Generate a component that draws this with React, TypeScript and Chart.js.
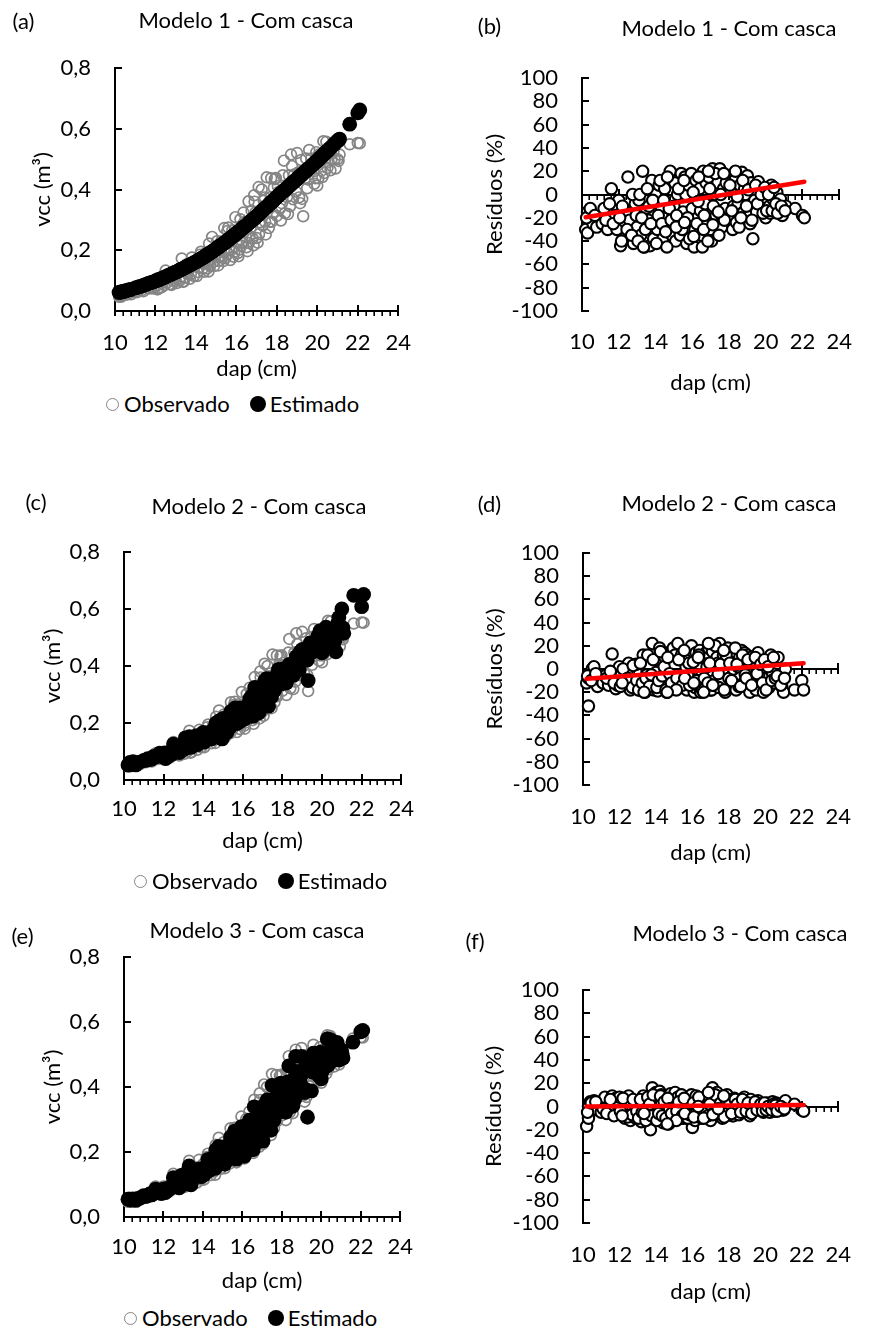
import React, { useEffect, useRef } from 'react';
import { Chart, registerables } from 'chart.js';

Chart.register(...registerables);

const FONT = 'Lato, "Open Sans", sans-serif';

// ---------------- DATA ----------------
const dap = [
  10.2, 10.3, 10.3, 10.4, 10.5, 10.6, 10.8, 11.0, 11.1, 11.2, 11.4, 11.6, 11.8, 11.9, 12.0, 12.1, 12.3, 12.4, 12.5, 12.6,
  12.8, 12.9, 13.0, 13.1, 13.2, 13.3, 13.4, 13.5, 13.6, 13.7, 13.8, 13.9, 14.0, 14.1, 14.2, 14.3, 14.4, 14.5, 14.6, 14.7,
  14.8, 14.9, 14.95, 15.0, 15.05, 15.1, 15.2, 15.3, 15.35, 15.4, 15.5, 15.6, 15.65, 15.7, 15.8, 15.9, 15.95, 16.0, 16.1, 16.15,
  16.2, 16.3, 16.4, 16.45, 16.5, 16.55, 16.6, 16.7, 16.75, 16.8, 16.9, 17.0, 17.05, 17.1, 17.2, 17.3, 17.35, 17.4, 17.5, 17.6,
  17.65, 17.7, 17.8, 17.9, 17.95, 18.0, 18.1, 18.2, 18.25, 18.3, 18.4, 18.5, 18.55, 18.6, 18.7, 18.8, 18.85, 18.9, 19.0, 19.1,
  19.15, 19.2, 19.3, 19.4, 19.5, 19.6, 19.7, 19.8, 19.9, 20.0, 20.1, 20.2, 20.25, 20.3, 20.4, 20.5, 20.6, 20.7, 20.8, 20.9,
  21.0, 21.1, 21.6, 22.0, 22.1,
  10.25, 10.45, 10.7, 11.3, 11.5, 11.7, 12.05, 12.2, 12.45, 12.7, 12.75, 12.95,
  13.05, 13.15, 13.25, 13.45, 13.55, 13.65, 13.75, 13.85, 14.05, 14.15, 14.25, 14.35, 14.45, 14.55, 14.65, 14.75, 14.85,
  15.15, 15.25, 15.45, 15.55, 15.75, 15.85, 16.05, 16.25, 16.35, 16.65, 16.85, 16.95, 17.15, 17.25, 17.45, 17.55, 17.75, 17.85,
  18.05, 18.15, 18.35, 18.45, 18.65, 18.75, 18.95, 19.05, 19.25, 19.45, 19.55, 19.75, 19.85, 19.95, 20.05, 20.15, 20.35, 20.45, 20.55, 20.65, 20.85, 21.05,
  15.12, 15.58, 16.08, 16.32, 16.62, 17.12, 17.42, 17.72, 16.88, 14.62, 13.35, 12.15,
];

const vccObs = [
  0.047, 0.047, 0.055, 0.054, 0.054, 0.054, 0.055, 0.063, 0.062, 0.071, 0.065, 0.094, 0.080, 0.074, 0.094, 0.071, 0.078, 0.096, 0.133, 0.095,
  0.086, 0.116, 0.100, 0.125, 0.100, 0.173, 0.097, 0.129, 0.121, 0.106, 0.176, 0.115, 0.162, 0.128, 0.185, 0.158, 0.129, 0.192, 0.156, 0.149,
  0.244, 0.148, 0.176, 0.186, 0.230, 0.150, 0.214, 0.175, 0.164, 0.273, 0.199, 0.275, 0.237, 0.168, 0.266, 0.195, 0.309, 0.228, 0.180, 0.202,
  0.302, 0.227, 0.293, 0.246, 0.210, 0.197, 0.361, 0.273, 0.330, 0.240, 0.360, 0.240, 0.225, 0.408, 0.324, 0.281, 0.363, 0.374, 0.440, 0.273,
  0.294, 0.375, 0.323, 0.434, 0.438, 0.313, 0.393, 0.298, 0.355, 0.447, 0.322, 0.375, 0.319, 0.447, 0.515, 0.368, 0.449, 0.429, 0.520, 0.374,
  0.355, 0.497, 0.312, 0.437, 0.404, 0.530, 0.502, 0.460, 0.437, 0.413, 0.516, 0.462, 0.441, 0.559, 0.501, 0.471, 0.524, 0.500, 0.526, 0.469,
  0.500, 0.515, 0.549, 0.553, 0.552,
  0.052, 0.058, 0.059, 0.067, 0.081, 0.074, 0.083, 0.095, 0.085, 0.088, 0.120, 0.108,
  0.092, 0.133, 0.113, 0.110, 0.154, 0.136, 0.122, 0.150, 0.115, 0.142, 0.195, 0.141, 0.171, 0.140, 0.222, 0.172, 0.162,
  0.180, 0.229, 0.174, 0.263, 0.202, 0.179, 0.263, 0.215, 0.324, 0.247, 0.216, 0.325, 0.292, 0.400, 0.252, 0.346, 0.294, 0.406,
  0.411, 0.337, 0.495, 0.394, 0.345, 0.477, 0.393, 0.456, 0.369, 0.502, 0.433, 0.480, 0.419, 0.523, 0.437, 0.505, 0.454, 0.557, 0.491, 0.463, 0.500, 0.494,
  0.165, 0.188, 0.191, 0.258, 0.224, 0.253, 0.294, 0.437, 0.381, 0.130, 0.096, 0.074,
];

const vccEst1 = [
  0.061, 0.063, 0.063, 0.064, 0.066, 0.068, 0.071, 0.076, 0.078, 0.080, 0.084, 0.089, 0.094, 0.096, 0.099, 0.102, 0.107, 0.110, 0.113, 0.116,
  0.122, 0.125, 0.128, 0.131, 0.135, 0.138, 0.141, 0.145, 0.148, 0.152, 0.155, 0.159, 0.162, 0.166, 0.170, 0.174, 0.178, 0.182, 0.187, 0.191,
  0.195, 0.200, 0.202, 0.205, 0.207, 0.210, 0.214, 0.219, 0.221, 0.224, 0.229, 0.234, 0.237, 0.239, 0.245, 0.250, 0.253, 0.255, 0.261, 0.263,
  0.266, 0.272, 0.278, 0.280, 0.283, 0.286, 0.289, 0.295, 0.297, 0.300, 0.306, 0.312, 0.315, 0.318, 0.324, 0.331, 0.334, 0.337, 0.343, 0.350,
  0.353, 0.356, 0.362, 0.369, 0.372, 0.375, 0.381, 0.387, 0.390, 0.393, 0.399, 0.405, 0.408, 0.411, 0.417, 0.423, 0.426, 0.429, 0.435, 0.441,
  0.444, 0.447, 0.453, 0.459, 0.465, 0.471, 0.477, 0.483, 0.489, 0.495, 0.501, 0.508, 0.511, 0.514, 0.521, 0.527, 0.534, 0.540, 0.547, 0.554,
  0.560, 0.566, 0.615, 0.652, 0.662,
  0.062, 0.065, 0.070, 0.082, 0.087, 0.092, 0.100, 0.104, 0.111, 0.119, 0.120, 0.127,
  0.129, 0.133, 0.136, 0.143, 0.146, 0.150, 0.153, 0.157, 0.164, 0.168, 0.172, 0.176, 0.180, 0.185, 0.189, 0.193, 0.198,
  0.212, 0.217, 0.226, 0.231, 0.242, 0.247, 0.258, 0.269, 0.275, 0.292, 0.303, 0.309, 0.321, 0.328, 0.340, 0.346, 0.359, 0.365,
  0.378, 0.384, 0.396, 0.402, 0.414, 0.420, 0.432, 0.438, 0.450, 0.462, 0.468, 0.480, 0.486, 0.492, 0.498, 0.505, 0.518, 0.524, 0.530, 0.537, 0.550, 0.563,
  0.211, 0.233, 0.260, 0.274, 0.291, 0.319, 0.338, 0.358, 0.305, 0.188, 0.139, 0.103,
];

const vccEst2 = [
  0.053, 0.062, 0.059, 0.057, 0.054, 0.053, 0.063, 0.069, 0.069, 0.075, 0.074, 0.082, 0.094, 0.084, 0.092, 0.075, 0.086, 0.099, 0.126, 0.112,
  0.096, 0.111, 0.115, 0.148, 0.115, 0.152, 0.116, 0.135, 0.133, 0.124, 0.137, 0.136, 0.167, 0.152, 0.152, 0.149, 0.144, 0.173, 0.187, 0.170,
  0.207, 0.160, 0.144, 0.216, 0.202, 0.165, 0.167, 0.196, 0.184, 0.240, 0.209, 0.253, 0.232, 0.198, 0.253, 0.211, 0.247, 0.251, 0.216, 0.234,
  0.260, 0.259, 0.246, 0.295, 0.223, 0.232, 0.325, 0.317, 0.284, 0.235, 0.295, 0.283, 0.266, 0.347, 0.356, 0.259, 0.327, 0.355, 0.343, 0.314,
  0.329, 0.330, 0.388, 0.373, 0.359, 0.338, 0.362, 0.340, 0.355, 0.380, 0.380, 0.368, 0.367, 0.402, 0.433, 0.412, 0.386, 0.450, 0.458, 0.434,
  0.426, 0.447, 0.349, 0.481, 0.477, 0.456, 0.472, 0.506, 0.524, 0.446, 0.490, 0.536, 0.467, 0.492, 0.521, 0.528, 0.482, 0.450, 0.552, 0.540,
  0.600, 0.515, 0.648, 0.608, 0.651,
  0.055, 0.064, 0.061, 0.072, 0.083, 0.083, 0.095, 0.095, 0.092, 0.102, 0.116, 0.119,
  0.109, 0.126, 0.127, 0.119, 0.136, 0.156, 0.128, 0.138, 0.133, 0.156, 0.166, 0.149, 0.168, 0.165, 0.200, 0.179, 0.181,
  0.194, 0.211, 0.198, 0.221, 0.214, 0.204, 0.247, 0.237, 0.285, 0.267, 0.242, 0.309, 0.333, 0.320, 0.292, 0.332, 0.347, 0.357,
  0.390, 0.371, 0.406, 0.378, 0.397, 0.420, 0.424, 0.420, 0.421, 0.452, 0.450, 0.461, 0.469, 0.481, 0.516, 0.495, 0.499, 0.501, 0.530, 0.491, 0.570, 0.534,
  0.195, 0.203, 0.214, 0.232, 0.269, 0.288, 0.306, 0.367, 0.297, 0.156, 0.115, 0.083,
];

const vccEst3 = [
  0.055, 0.052, 0.055, 0.052, 0.053, 0.051, 0.057, 0.066, 0.063, 0.065, 0.068, 0.086, 0.074, 0.072, 0.086, 0.075, 0.086, 0.091, 0.121, 0.106,
  0.090, 0.128, 0.108, 0.133, 0.113, 0.157, 0.099, 0.125, 0.128, 0.127, 0.148, 0.124, 0.143, 0.141, 0.161, 0.142, 0.147, 0.180, 0.164, 0.171,
  0.217, 0.166, 0.181, 0.182, 0.202, 0.162, 0.197, 0.182, 0.180, 0.246, 0.219, 0.264, 0.242, 0.178, 0.250, 0.218, 0.278, 0.269, 0.187, 0.226,
  0.275, 0.245, 0.278, 0.261, 0.231, 0.207, 0.339, 0.265, 0.304, 0.254, 0.331, 0.269, 0.234, 0.343, 0.334, 0.295, 0.319, 0.359, 0.405, 0.298,
  0.323, 0.368, 0.342, 0.391, 0.412, 0.326, 0.373, 0.322, 0.383, 0.416, 0.338, 0.364, 0.341, 0.425, 0.494, 0.383, 0.413, 0.420, 0.494, 0.396,
  0.383, 0.467, 0.307, 0.450, 0.388, 0.504, 0.492, 0.469, 0.459, 0.425, 0.500, 0.471, 0.463, 0.548, 0.481, 0.490, 0.508, 0.490, 0.537, 0.483,
  0.515, 0.489, 0.538, 0.570, 0.574,
  0.055, 0.056, 0.057, 0.071, 0.076, 0.080, 0.086, 0.088, 0.093, 0.094, 0.113, 0.112,
  0.101, 0.125, 0.119, 0.123, 0.142, 0.133, 0.132, 0.135, 0.129, 0.151, 0.177, 0.152, 0.164, 0.154, 0.206, 0.175, 0.172,
  0.187, 0.220, 0.188, 0.245, 0.222, 0.192, 0.255, 0.226, 0.298, 0.257, 0.233, 0.319, 0.310, 0.360, 0.267, 0.336, 0.320, 0.382,
  0.403, 0.357, 0.465, 0.386, 0.362, 0.448, 0.409, 0.442, 0.391, 0.482, 0.446, 0.470, 0.436, 0.507, 0.450, 0.505, 0.468, 0.546, 0.486, 0.482, 0.500, 0.504,
  0.185, 0.199, 0.208, 0.258, 0.246, 0.271, 0.300, 0.398, 0.335, 0.150, 0.102, 0.080,
];

const res1 = [
  -30, -33, -15, -18, -22, -25, -28, -20, -25, -12, -30, 5, -18, -30, -5, -44, -38, -15, 15, -22,
  -42, -8, -28, -5, -35, 20, -45, -12, -22, -44, 12, -38, 0, -30, 8, -10, -38, 5, -20, -28,
  20, -35, -15, -10, 10, -40, 0, -25, -35, 18, -15, 15, 0, -42, 8, -28, 18, -12, -45, -30,
  12, -20, 5, -14, -35, -45, 20, -8, 10, -25, 15, -30, -40, 22, 0, -18, 8, 10, 22, -28,
  -20, 5, -12, 15, 15, -20, 3, -30, -10, 12, -24, -8, -28, 8, 19, -15, 5, 0, 16, -18,
  -25, 10, -38, -5, -15, 11, 5, -5, -12, -20, 3, -10, -16, 8, -4, -12, 2, -8, -4, -18,
  -12, -10, -12, -18, -20,
  -20, -12, -18, -22, -8, -25, -20, -10, -30, -35, 0, -18,
  -40, 0, -20, -30, 5, -10, -25, -5, -42, -18, 12, -25, -5, -32, 15, -12, -22,
  -18, 5, -30, 12, -20, -38, 2, -25, 15, -18, -40, 5, -10, 18, -35, 0, -22, 10,
  8, -14, 20, -2, -20, 12, -10, 4, -22, 8, -8, 0, -16, 6, -14, 0, -14, 6, -8, -16, -10, -14,
  -28, -24, -36, -6, -30, -26, -15, 18, 20, -45, -45, -40,
];

const res2 = [
  -12, -32, -8, -5, 0, 2, -15, -10, -12, -6, -14, 13, -17, -14, 2, -5, -10, -3, 5, -18,
  -12, 4, -15, -18, -15, 12, -20, -5, -10, -17, 22, -18, -3, -19, 18, 6, -12, 10, -20, -14,
  15, -8, 18, -16, 12, -10, 22, -12, -12, 12, -5, 8, 2, -18, 5, -8, 20, -10, -20, -16,
  14, -14, 16, -20, -6, -18, 10, -16, 14, 2, 18, -18, -18, 15, -10, 8, 10, 5, 22, -15,
  -12, 12, -20, 14, 18, -8, 8, -14, 0, 15, -18, 2, -15, 10, 16, -12, 14, -5, 12, -16,
  -20, 10, -12, -10, -18, 14, 6, -10, -20, -8, 5, -16, -6, 12, -4, -12, 8, 10, -5, -15,
  -20, 0, -18, -10, -18,
  -6, -10, -4, -8, -2, -12, -15, 0, -8, -16, 3, -10,
  -18, 5, -12, -8, 12, -15, -5, 8, -16, -10, 15, -6, 2, -18, 10, -4, -12,
  -8, 8, -14, 16, -6, -14, 6, -10, 12, -8, -12, 5, -14, 20, -16, 4, -18, 12,
  5, -10, 18, 4, -15, 12, -8, 8, -14, 10, -4, 4, -12, 8, -18, 2, -10, 10, -8, -6, -14, -8,
  -18, -8, -12, 10, -20, -14, -4, 16, 22, -20, -20, -12,
];

const res3 = [
  -17, -10, 0, 4, 2, 5, -3, -5, -2, 8, -4, 9, 7, 3, 8, -6, -10, 5, 9, -12,
  -5, -10, -8, -6, -13, 9, -2, 3, -6, -20, 16, -8, 12, -10, 13, 10, -14, 6, -5, -15,
  11, -12, -3, 2, 12, -8, 8, -4, -10, 10, -10, 4, -2, -6, 6, -12, 10, -18, -4, -12,
  9, -8, 5, -6, -10, -5, 6, 3, 8, -6, 8, -12, -4, 16, -3, -5, 12, 4, 8, -9,
  -10, 2, -6, 10, 6, -4, 5, -8, -8, 7, -5, 3, -7, 5, 4, -4, 8, 2, 5, -6,
  -8, 6, 0, -3, 4, 5, 2, -2, -5, -3, 3, -2, -5, 2, 4, -4, 3, 2, -2, -3,
  -3, 5, 2, -3, -4,
  -5, 3, 4, -6, 6, -8, -4, 7, -9, -7, 6, -4,
  -10, 6, -5, -12, 8, 2, -8, 10, -12, -6, 9, -8, 4, -10, 7, -2, -6,
  -4, 4, -8, 7, -10, -7, 3, -5, 8, -4, -8, 2, -6, 10, -6, 3, -9, 6,
  2, -6, 6, 2, -5, 6, -4, 3, -6, 4, -3, 2, -4, 3, -3, 0, -3, 2, 1, -4, 0, -2,
  -12, -6, -9, 0, -10, -7, -2, 9, 12, -15, -6, -8,
];

// linear trend of the residuals (start / end)
const trendDap = [10.2, 22.1];
const trend1 = [-19.5, 11];
const trend2 = [-8.5, 5];
const trend3 = [0, 1.2];

const vccTicks = { min: 0, max: 0.8, step: 0.2 };
const resTicks = { min: -100, max: 100, step: 20 };
const dapTicks = { min: 10, max: 24, step: 2, minor: 0.4 };

// ---------------- PLUGIN: Excel-like axis ticks ----------------
const excelAxes = {
  id: 'excelAxes',
  beforeDatasetsDraw(chart: any, _args: any, opts: any) {
    const { ctx, chartArea } = chart;
    const x = chart.scales.x;
    const y = chart.scales.y;
    const axisY = Math.round(y.getPixelForValue(opts.crossAt));
    ctx.save();
    ctx.strokeStyle = '#000';
    if (opts.drawXLine) {
      ctx.lineWidth = 2;
      ctx.beginPath();
      ctx.moveTo(chartArea.left, axisY);
      ctx.lineTo(chartArea.right, axisY);
      ctx.stroke();
    }
    ctx.lineWidth = 1.6;
    const n = Math.round((dapTicks.max - dapTicks.min) / dapTicks.minor);
    for (let i = 0; i <= n; i++) {
      const v = dapTicks.min + i * dapTicks.minor;
      const px = Math.round(x.getPixelForValue(v)) + 0.2;
      ctx.beginPath();
      ctx.moveTo(px, axisY);
      ctx.lineTo(px, axisY + 5);
      ctx.stroke();
    }
    ctx.lineWidth = 2;
    x.ticks.forEach((t: any) => {
      const px = Math.round(x.getPixelForValue(t.value));
      ctx.beginPath();
      ctx.moveTo(px, axisY - 6);
      ctx.lineTo(px, axisY + 5);
      ctx.stroke();
    });
    y.ticks.forEach((t: any) => {
      const py = Math.round(y.getPixelForValue(t.value));
      ctx.beginPath();
      ctx.moveTo(chartArea.left, py);
      ctx.lineTo(chartArea.left + 7, py);
      ctx.stroke();
    });
    ctx.restore();
  },
};

// ---------------- PANELS ----------------
type Box = { x: number; y: number; w: number; h: number };
type Area = { l: number; t: number; r: number; b: number };
type PanelDef = {
  kind: 'vcc' | 'res';
  est?: number[];
  res?: number[];
  trend?: number[];
  canvas: Box;
  area: Area;
  ylabX: number;
  xPad: number;
};

const panels: PanelDef[] = [
  { kind: 'vcc', est: vccEst1, canvas: { x: 0, y: 0, w: 430, h: 382 }, area: { l: 115, t: 68, r: 404, b: 311 }, ylabX: 43, xPad: 19 },
  { kind: 'res', res: res1, trend: trend1, canvas: { x: 430, y: 0, w: 440, h: 396 }, area: { l: 582, t: 78, r: 857, b: 311 }, ylabX: 495, xPad: 18 },
  { kind: 'vcc', est: vccEst2, canvas: { x: 0, y: 440, w: 430, h: 414 }, area: { l: 124, t: 552, r: 402, b: 780 }, ylabX: 53, xPad: 16 },
  { kind: 'res', res: res2, trend: trend2, canvas: { x: 430, y: 440, w: 440, h: 426 }, area: { l: 583, t: 553, r: 857, b: 785 }, ylabX: 495, xPad: 19 },
  { kind: 'vcc', est: vccEst3, canvas: { x: 0, y: 890, w: 430, h: 404 }, area: { l: 124, t: 957, r: 402, b: 1217 }, ylabX: 53, xPad: 17 },
  { kind: 'res', res: res3, trend: trend3, canvas: { x: 430, y: 890, w: 440, h: 415 }, area: { l: 583, t: 990, r: 857, b: 1223 }, ylabX: 494, xPad: 19 },
];

const TITLE_SIZE = 22;
const TICK_SIZE = 22;

function buildConfig(p: PanelDef): any {
  const half = (TITLE_SIZE * 1.2) / 2;
  const padLeft = p.ylabX - half - p.canvas.x;
  const yW = p.area.l - p.canvas.x - padLeft;
  const padTop = p.area.t - p.canvas.y;
  const padRight = p.canvas.x + p.canvas.w - p.area.r;
  const xH = p.canvas.y + p.canvas.h - p.area.b;
  const isRes = p.kind === 'res';
  const yt = isRes ? resTicks : vccTicks;

  let datasets: any[];
  if (!isRes) {
    datasets = [
      {
        label: 'Observado',
        data: dap.map((d, i) => ({ x: d, y: vccObs[i] })),
        pointRadius: 5.4,
        pointBorderWidth: 1.7,
        pointBorderColor: '#858585',
        pointBackgroundColor: 'rgba(255,255,255,0)',
        borderColor: '#858585',
        backgroundColor: 'rgba(255,255,255,0)',
        order: 1,
        clip: false,
      },
      {
        label: 'Estimado',
        data: dap.map((d, i) => ({ x: d, y: (p.est as number[])[i] })),
        pointRadius: 7.4,
        pointBorderWidth: 0,
        pointBackgroundColor: '#000',
        backgroundColor: '#000',
        borderColor: '#000',
        order: 0,
        clip: false,
      },
    ];
  } else {
    datasets = [
      {
        type: 'scatter',
        label: 'Resíduos',
        data: dap.map((d, i) => ({ x: d, y: (p.res as number[])[i] })),
        pointRadius: 5.7,
        pointBorderWidth: 2.1,
        pointBorderColor: '#000',
        pointBackgroundColor: '#fff',
        borderColor: '#000',
        backgroundColor: '#fff',
        order: 1,
        clip: false,
      },
      {
        type: 'line',
        label: 'Tendência',
        data: trendDap.map((d, i) => ({ x: d, y: (p.trend as number[])[i] })),
        borderColor: '#ff0000',
        borderWidth: 4.5,
        borderCapStyle: 'round',
        pointRadius: 0,
        fill: false,
        order: 0,
        clip: false,
      },
    ];
  }

  return {
    type: 'scatter',
    data: { datasets },
    options: {
      animation: false,
      responsive: false,
      devicePixelRatio: 1,
      events: [],
      layout: { padding: { left: padLeft, top: padTop, right: padRight, bottom: 0 } },
      plugins: {
        legend: { display: false },
        title: { display: false },
        tooltip: { enabled: false },
        excelAxes: { crossAt: 0, drawXLine: isRes },
      },
      scales: {
        x: {
          type: 'linear',
          min: dapTicks.min,
          max: dapTicks.max,
          ticks: {
            stepSize: dapTicks.step,
            padding: p.xPad,
            color: '#000',
            font: { family: FONT, size: TICK_SIZE },
            maxRotation: 0,
            autoSkip: false,
            callback: (v: any) => String(v),
          },
          grid: { display: false, drawTicks: false },
          border: { display: !isRes, color: '#000', width: 2 },
          title: {
            display: true,
            text: 'dap (cm)',
            color: '#000',
            font: { family: FONT, size: TITLE_SIZE },
            padding: 0,
          },
          afterFit: (s: any) => {
            s.height = xH;
          },
        },
        y: {
          type: 'linear',
          min: yt.min,
          max: yt.max,
          ticks: {
            stepSize: yt.step,
            padding: 24,
            color: '#000',
            font: { family: FONT, size: TICK_SIZE },
            autoSkip: false,
            callback: (v: any) => (isRes ? String(Math.round(Number(v))) : Number(v).toFixed(1).replace('.', ',')),
          },
          grid: { display: false, drawTicks: false },
          border: { display: true, color: '#000', width: 2 },
          title: {
            display: true,
            text: isRes ? 'Resíduos (%)' : 'vcc (m³)',
            color: '#000',
            font: { family: FONT, size: TITLE_SIZE },
            padding: 0,
          },
          afterFit: (s: any) => {
            s.width = yW;
          },
        },
      },
    },
    plugins: [excelAxes],
  };
}

function Panel({ def }: { def: PanelDef }) {
  const ref = useRef<HTMLCanvasElement>(null);
  useEffect(() => {
    const chart = new Chart(ref.current as HTMLCanvasElement, buildConfig(def));
    return () => chart.destroy();
  }, [def]);
  const c = def.canvas;
  return (
    <canvas
      ref={ref}
      width={c.w}
      height={c.h}
      style={{ position: 'absolute', left: c.x, top: c.y, width: c.w, height: c.h }}
    />
  );
}

function Text({ x, y, text }: { x: number; y: number; text: string }) {
  return (
    <div
      style={{
        position: 'absolute',
        left: x,
        top: y,
        transform: 'translate(-50%, -50%)',
        fontFamily: FONT,
        fontSize: TITLE_SIZE,
        lineHeight: 1,
        whiteSpace: 'nowrap',
        color: '#000',
      }}
    >
      {text}
    </div>
  );
}

function Legend({ x, y }: { x: number; y: number }) {
  return (
    <div
      style={{
        position: 'absolute',
        left: x,
        top: y,
        transform: 'translateY(-50%)',
        display: 'flex',
        alignItems: 'center',
        fontFamily: FONT,
        fontSize: TITLE_SIZE,
        lineHeight: 1,
        whiteSpace: 'nowrap',
        color: '#000',
      }}
    >
      <span
        style={{
          display: 'inline-block',
          width: 11,
          height: 11,
          borderRadius: '50%',
          border: '1.6px solid #858585',
          marginRight: 5,
        }}
      />
      <span style={{ marginRight: 20 }}>Observado</span>
      <span
        style={{ display: 'inline-block', width: 16, height: 16, borderRadius: '50%', background: '#000', marginRight: 4 }}
      />
      <span>Estimado</span>
    </div>
  );
}

const panelLabels = [
  { x: 23.5, y: 21, text: '(a)' },
  { x: 489.5, y: 26, text: '(b)' },
  { x: 36, y: 502, text: '(c)' },
  { x: 489.5, y: 504, text: '(d)' },
  { x: 22.5, y: 936, text: '(e)' },
  { x: 475, y: 941, text: '(f)' },
];

const titles = [
  { x: 246, y: 20, text: 'Modelo 1 - Com casca' },
  { x: 729, y: 28, text: 'Modelo 1 - Com casca' },
  { x: 259, y: 506, text: 'Modelo 2 - Com casca' },
  { x: 729, y: 503, text: 'Modelo 2 - Com casca' },
  { x: 257, y: 930, text: 'Modelo 3 - Com casca' },
  { x: 740, y: 933, text: 'Modelo 3 - Com casca' },
];

const legends = [
  { x: 106, y: 404 },
  { x: 134, y: 881 },
  { x: 124, y: 1318 },
];

export default function App() {
  return (
    <div
      style={{
        position: 'absolute',
        left: 0,
        top: 0,
        width: 870,
        height: 1328,
        background: '#fff',
        overflow: 'hidden',
      }}
    >
      {panels.map((p, i) => (
        <Panel key={i} def={p} />
      ))}
      {panelLabels.map((t, i) => (
        <Text key={'l' + i} {...t} />
      ))}
      {titles.map((t, i) => (
        <Text key={'t' + i} {...t} />
      ))}
      {legends.map((l, i) => (
        <Legend key={'g' + i} {...l} />
      ))}
    </div>
  );
}
